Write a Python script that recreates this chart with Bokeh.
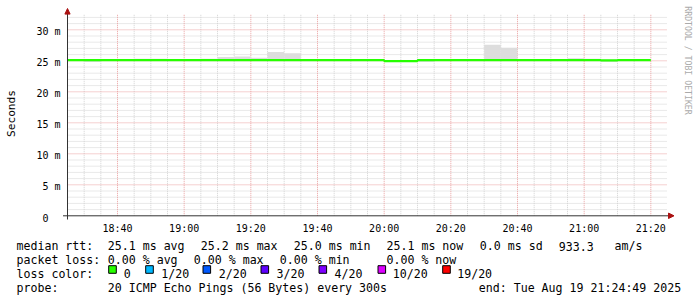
from bokeh.plotting import figure
from bokeh.models import Range1d
from bokeh.core.properties import value
from bokeh.embed import file_html
from bokeh.resources import INLINE
import math

# ---------------- data ----------------
start_label = "18:25"          # left edge of the time axis
step_minutes = 5               # one smokeping step = 300 s
axis_span_minutes = 180        # 3 hours shown

# median RTT per 5-minute step (ms), 18:25 ... 21:15
median_ms = [
    25.1, 25.1, 25.1, 25.1, 25.1, 25.1, 25.1, 25.1, 25.1, 25.1,
    25.1, 25.1, 25.12, 25.1, 25.1, 25.1, 25.1, 25.1, 25.1, 24.95,
    24.95, 25.1, 25.1, 25.1, 25.1, 25.12, 25.1, 25.1, 25.1, 25.1,
    25.1, 25.1, 25.08, 25.1, 25.1,
]
# smoke band (lowest / highest ping of the 20) per step (ms)
smoke_low_ms = [
    25.0, 24.8, 25.0, 25.0, 25.0, 25.0, 25.0, 25.0, 25.0, 25.0,
    25.0, 25.0, 25.0, 25.0, 25.0, 25.0, 25.0, 25.0, 25.0, 24.85,
    24.85, 24.8, 25.0, 25.0, 25.0, 25.0, 25.0, 25.0, 25.0, 25.0,
    25.0, 25.0, 24.8, 25.0, 25.0,
]
smoke_high_ms = [
    25.2, 25.2, 25.2, 25.2, 25.35, 25.35, 25.2, 25.2, 25.35, 25.6,
    25.7, 25.5, 26.4, 26.2, 25.3, 25.25, 25.2, 25.2, 25.2, 25.05,
    25.05, 25.2, 25.2, 25.2, 25.2, 27.6, 27.1, 25.2, 25.2, 25.2,
    25.4, 25.35, 25.15, 25.2, 25.2,
]

x_tick_labels = ["18:40", "19:00", "19:20", "19:40", "20:00", "20:20", "20:40", "21:00", "21:20"]
y_major_ticks = [0, 5, 10, 15, 20, 25, 30]
y_minor_step = 1
y_grid_max = 32

loss_labels = ["0", "1/20", "2/20", "3/20", "4/20", "10/20", "19/20"]
loss_colors = ["#26ff00", "#00b8ff", "#0059ff", "#5e00ff", "#7e00ff", "#dd00ff", "#ff0000"]

rtt_stats = ["25.1 ms avg", "25.2 ms max", "25.0 ms min", "25.1 ms now", "0.0 ms sd", "933.3", "am/s"]
loss_stats = ["0.00 % avg", "0.00 % max", "0.00 % min", "0.00 % now"]
probe_text = "20 ICMP Echo Pings (56 Bytes) every 300s"
end_text = "end: Tue Aug 19 21:24:49 2025"

# ---------------- geometry (canvas pixels -> data) ----------------
W, H = 697, 297
X0_PX, PX_PER_MIN = 67.0, 600.0 / 180.0
Y0_PX, PX_PER_MS = 215.3, 6.2


def dx(cx):
    return (cx - X0_PX) / PX_PER_MIN


def dy(cy):
    return (Y0_PX - cy) / PX_PER_MS


def to_min(lbl):
    h, m = lbl.split(":")
    return int(h) * 60 + int(m)


t0 = to_min(start_label)

p = figure(width=W, height=H, output_backend="svg", toolbar_location=None,
           x_axis_location=None, y_axis_location=None, min_border=0,
           x_range=Range1d(dx(0), dx(W)), y_range=Range1d(dy(H), dy(0)),
           background_fill_color="white", border_fill_color="white")
p.outline_line_color = None
for g in p.grid:
    g.visible = False

MONO = value("DejaVu Sans Mono")

# ---------------- grid ----------------
grid_top = dy(14.0)
x_major = [to_min(l) - t0 for l in x_tick_labels]
x_minor = [t for t in range(step_minutes, axis_span_minutes, step_minutes) if t not in x_major]
y_major = [v for v in y_major_ticks if v > 0]
y_minor = [v for v in range(y_minor_step, y_grid_max + 1, y_minor_step) if v % 5 != 0]

p.segment(x0=[0] * len(y_minor), x1=[axis_span_minutes] * len(y_minor), y0=y_minor, y1=y_minor,
          line_color="#d2d2d2", line_width=1, line_dash="1 1")
p.segment(x0=x_minor, x1=x_minor, y0=[0] * len(x_minor), y1=[grid_top] * len(x_minor),
          line_color="#d2d2d2", line_width=1, line_dash="1 1")
p.segment(x0=[0] * len(y_major), x1=[axis_span_minutes] * len(y_major), y0=y_major, y1=y_major,
          line_color="#eaa0a0", line_width=1, line_dash="1 1")
p.segment(x0=x_major, x1=x_major, y0=[0] * len(x_major), y1=[grid_top] * len(x_major),
          line_color="#eaa0a0", line_width=1, line_dash="1 1")

# ---------------- smoke + median ----------------
n = len(median_ms)
starts = [i * step_minutes for i in range(n)]
ends = [s + step_minutes for s in starts]
p.quad(left=starts, right=ends, bottom=smoke_low_ms, top=smoke_high_ms,
       fill_color="#dddddd", line_color=None)
p.step(x=starts + [ends[-1]], y=median_ms + [median_ms[-1]], mode="after",
       line_color=loss_colors[0], line_width=2.2)

# ---------------- axes ----------------
axis_col = "#333333"
arrow_col = "#aa1111"
p.segment(x0=[dx(62.5)], x1=[dx(668)], y0=[0], y1=[0], line_color=axis_col, line_width=1)
p.segment(x0=[0], x1=[0], y0=[dy(219)], y1=[dy(13)], line_color=axis_col, line_width=1)
p.patch([dx(64.4), dx(69.6), dx(67)], [dy(13.6), dy(13.6), dy(8)], fill_color=arrow_col, line_color=arrow_col)
p.patch([dx(668), dx(668), dx(673.5)], [dy(212.6), dy(218.0), dy(215.3)], fill_color=arrow_col, line_color=arrow_col)

# y tick labels
ylab_txt = [("%d m" % v) if v else "0" for v in y_major_ticks]
ylab_x = [dx(60) if v else dx(48) for v in y_major_ticks]
ylab_y = [v - 2.0 / PX_PER_MS for v in y_major_ticks]
p.text(x=ylab_x, y=ylab_y, text=ylab_txt, text_font=MONO, text_font_size="10px",
       text_align="right", text_baseline="alphabetic", text_color="black")

# x tick labels
p.text(x=x_major, y=[dy(227.8)] * len(x_major), text=x_tick_labels, text_font=MONO,
       text_font_size="10px", text_align="center", text_baseline="alphabetic", text_color="black")

# axis title and watermark
p.text(x=[dx(10.5)], y=[dy(113)], text=["Seconds"], angle=math.pi / 2, text_font=MONO,
       text_font_size="11.2px", text_align="center", text_baseline="middle", text_color="black")
p.text(x=[dx(687.5)], y=[dy(60)], text=["RRDTOOL / TOBI OETIKER"], angle=-math.pi / 2, text_font=MONO,
       text_font_size="8.2px", text_align="center", text_baseline="middle", text_color="#aaaaaa")

# ---------------- legend text ----------------
LF = "11.6px"
b1, b2, b3, b4 = 245.7, 259.3, 273.3, 287.0

row_x = [16] * 4
row_y = [dy(b) for b in (b1, b2, b3, b4)]
p.text(x=[dx(x) for x in row_x], y=row_y, text=["median rtt:", "packet loss:", "loss color:", "probe:"],
       text_font=MONO, text_font_size=LF, text_align="left", text_baseline="alphabetic", text_color="black")

rtt_x = [107.3, 200.3, 293.3, 386.0, 479.3, 558.3, 614.0]
p.text(x=[dx(x) for x in rtt_x], y=[dy(b1)] * len(rtt_x), text=rtt_stats,
       text_font=MONO, text_font_size=LF, text_align="left", text_baseline="alphabetic", text_color="black")

loss_x = [107.3, 193.3, 279.3, 386.0]
p.text(x=[dx(x) for x in loss_x], y=[dy(b2)] * len(loss_x), text=loss_stats,
       text_font=MONO, text_font_size=LF, text_align="left", text_baseline="alphabetic", text_color="black")

sq_cx = [112.0, 149.0, 206.3, 264.3, 322.3, 381.3, 446.0]
lbl_x = [123.3, 160.7, 218.3, 276.0, 334.0, 392.3, 456.7]
sq = 7.6
p.rect(x=[dx(c) for c in sq_cx], y=[dy(269.0)] * len(sq_cx), width=sq / PX_PER_MIN, height=sq / PX_PER_MS,
       fill_color=loss_colors, line_color="black", line_width=1)
p.text(x=[dx(x) for x in lbl_x], y=[dy(b3)] * len(lbl_x), text=loss_labels,
       text_font=MONO, text_font_size=LF, text_align="left", text_baseline="alphabetic", text_color="black")

p.text(x=[dx(107.3), dx(478.3)], y=[dy(b4)] * 2, text=[probe_text, end_text],
       text_font=MONO, text_font_size=LF, text_align="left", text_baseline="alphabetic", text_color="black")

open("out.html", "w").write(file_html(p, INLINE))
